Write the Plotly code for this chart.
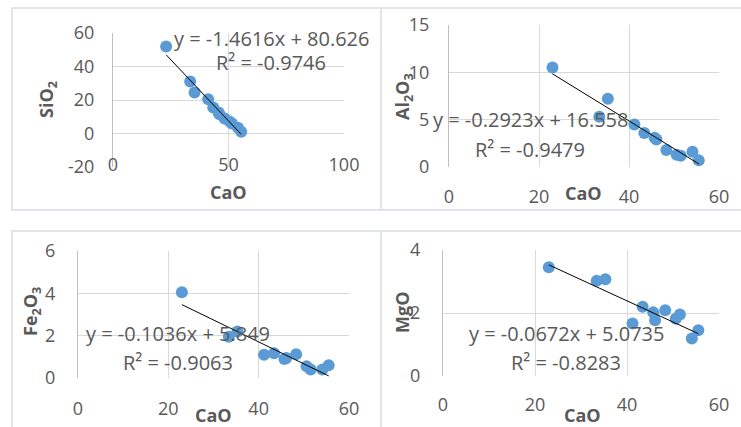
import numpy as np
import plotly.graph_objects as go

# ---- data ----
cao = [23.0, 33.4, 35.3, 41.2, 43.4, 45.7, 46.1, 48.3, 50.6, 51.5, 54.1, 55.5]
sio2 = [52, 31, 24.5, 20.5, 15.5, 12.5, 11.5, 9, 7, 6, 3.5, 1]
al2o3 = [10.5, 5.3, 7.2, 4.5, 3.6, 3.1, 2.9, 1.8, 1.3, 1.2, 1.6, 0.7]
fe2o3 = [4.05, 1.95, 2.2, 1.1, 1.17, 0.9, 0.95, 1.12, 0.55, 0.4, 0.4, 0.6]
mgo = [3.45, 3.02, 3.07, 1.67, 2.2, 2.02, 1.77, 2.09, 1.82, 1.95, 1.19, 1.45]

# trendline coefficients as printed on the chart
slopes = [-1.4616, -0.2923, -0.1036, -0.0672]
intercepts = [80.626, 16.558, 5.849, 5.0735]
eq_texts = ["y = -1.4616x + 80.626", "y = -0.2923x + 16.558",
            "y = -0.1036x + 5.849", "y = -0.0672x + 5.0735"]
r2_texts = ["R² = -0.9746", "R² = -0.9479", "R² = -0.9063", "R² = -0.8283"]
y_titles = ["SiO<sub>2</sub>", "Al<sub>2</sub>O<sub>3</sub>",
            "Fe<sub>2</sub>O<sub>3</sub>", "MgO"]
x_title = "CaO"
x_ranges = [[0, 100], [0, 60], [0, 60], [0, 60]]
x_tickvals = [[0, 50, 100], [0, 20, 40, 60], [0, 20, 40, 60], [0, 20, 40, 60]]
y_ranges = [[-20, 60], [0, 15], [0, 6], [0, 4]]
y_tickvals = [[-20, 0, 20, 40, 60], [0, 5, 10, 15], [0, 2, 4, 6], [0, 2, 4]]
y_ticktext = [["-20", "0", "20", "40", "60"], ["0", "5", "10", "15"],
              ["0", "2", "4", "6"], ["0", "2", "4"]]
series = [sio2, al2o3, fe2o3, mgo]

W, H = 741, 427
FONT = "Open Sans"
GRAY = "#595959"
GRID = "#d9d9d9"
BLUE = "#5B9BD5"

# plot-area boxes in pixels: (left, right, top, bottom)
boxes = [(113, 344, 33, 167), (449, 719, 25, 167), (78, 349, 251, 378), (443, 719, 250, 376)]
frames = [(12, 381, 8, 210), (381, 745, 8, 210), (12, 381, 231, 432), (381, 745, 231, 432)]
xlab_standoff = [-15, 17, 18, 16]
ylab_standoff = [14, 15, 18, 18]
eq_pos = [(271, 39, 63), (530, 120, 150), (178, 333, 362), (566, 333, 362)]
xtitle_pos = [(228, 192), (583, 193), (213, 415), (582, 415)]
ytitle_pos = [(47, 100), (403, 97), (31, 312), (402, 313)]

fig = go.Figure()
layout = dict(width=W, height=H, margin=dict(l=0, r=0, t=0, b=0, pad=0), autosize=False,
              paper_bgcolor="white", plot_bgcolor="white", showlegend=False,
              font=dict(family=FONT, color=GRAY))
annotations = []
shapes = []

for i in range(4):
    n = "" if i == 0 else str(i + 1)
    xa, ya = "x" + n, "y" + n
    l, r, t, b = boxes[i]
    layout["xaxis" + n] = dict(
        domain=[l / W, r / W], range=x_ranges[i], tickmode="array",
        tickvals=x_tickvals[i], ticktext=[str(v) for v in x_tickvals[i]],
        showgrid=True, gridcolor=GRID, gridwidth=1, zeroline=False, showline=False,
        ticks="", tickfont=dict(family=FONT, size=18, color=GRAY), automargin=False,
        ticklabelstandoff=xlab_standoff[i], anchor=ya, fixedrange=True)
    layout["yaxis" + n] = dict(
        domain=[1 - b / H, 1 - t / H], range=y_ranges[i], tickmode="array",
        tickvals=y_tickvals[i], ticktext=y_ticktext[i],
        showgrid=True, gridcolor=GRID, gridwidth=1, zeroline=False,
        showline=True, linecolor="#bfbfbf", linewidth=1, automargin=False,
        ticks="", tickfont=dict(family=FONT, size=18, color=GRAY),
        ticklabelstandoff=ylab_standoff[i], anchor=xa, fixedrange=True)

    fig.add_trace(go.Scatter(x=cao, y=series[i], mode="markers", xaxis=xa, yaxis=ya,
                             marker=dict(color=BLUE, size=12, line=dict(width=0))))
    xs = np.array([min(cao), max(cao)])
    fig.add_trace(go.Scatter(x=xs, y=slopes[i] * xs + intercepts[i], mode="lines",
                             xaxis=xa, yaxis=ya, line=dict(color="black", width=1)))

    fl, fr, ft, fb = frames[i]
    shapes.append(dict(type="rect", xref="paper", yref="paper", layer="below",
                       x0=fl / W, x1=fr / W, y0=1 - fb / H, y1=1 - ft / H,
                       line=dict(color="#e1e5ea", width=2), fillcolor="rgba(0,0,0,0)"))

    ex, ey1, ey2 = eq_pos[i]
    annotations.append(dict(text=eq_texts[i], x=ex / W, y=1 - ey1 / H, xref="paper", yref="paper",
                            showarrow=False, xanchor="center", yanchor="middle",
                            font=dict(family=FONT, size=20, color=GRAY)))
    annotations.append(dict(text=r2_texts[i], x=ex / W, y=1 - ey2 / H, xref="paper", yref="paper",
                            showarrow=False, xanchor="center", yanchor="middle",
                            font=dict(family=FONT, size=20, color=GRAY)))
    tx, ty = xtitle_pos[i]
    annotations.append(dict(text="<b>" + x_title + "</b>", x=tx / W, y=1 - ty / H,
                            xref="paper", yref="paper", showarrow=False,
                            xanchor="center", yanchor="middle",
                            font=dict(family=FONT, size=18, color=GRAY)))
    vx, vy = ytitle_pos[i]
    annotations.append(dict(text="<b>" + y_titles[i] + "</b>", x=vx / W, y=1 - vy / H,
                            xref="paper", yref="paper", showarrow=False, textangle=-90,
                            xanchor="center", yanchor="middle",
                            font=dict(family=FONT, size=18, color=GRAY)))

layout["annotations"] = annotations
layout["shapes"] = shapes
fig.update_layout(**layout)
fig.write_html("out.html", config={"displayModeBar": False, "staticPlot": True},
               post_script="document.body.style.margin='0';document.body.style.padding='0';"
                           "document.body.style.overflow='hidden';")
